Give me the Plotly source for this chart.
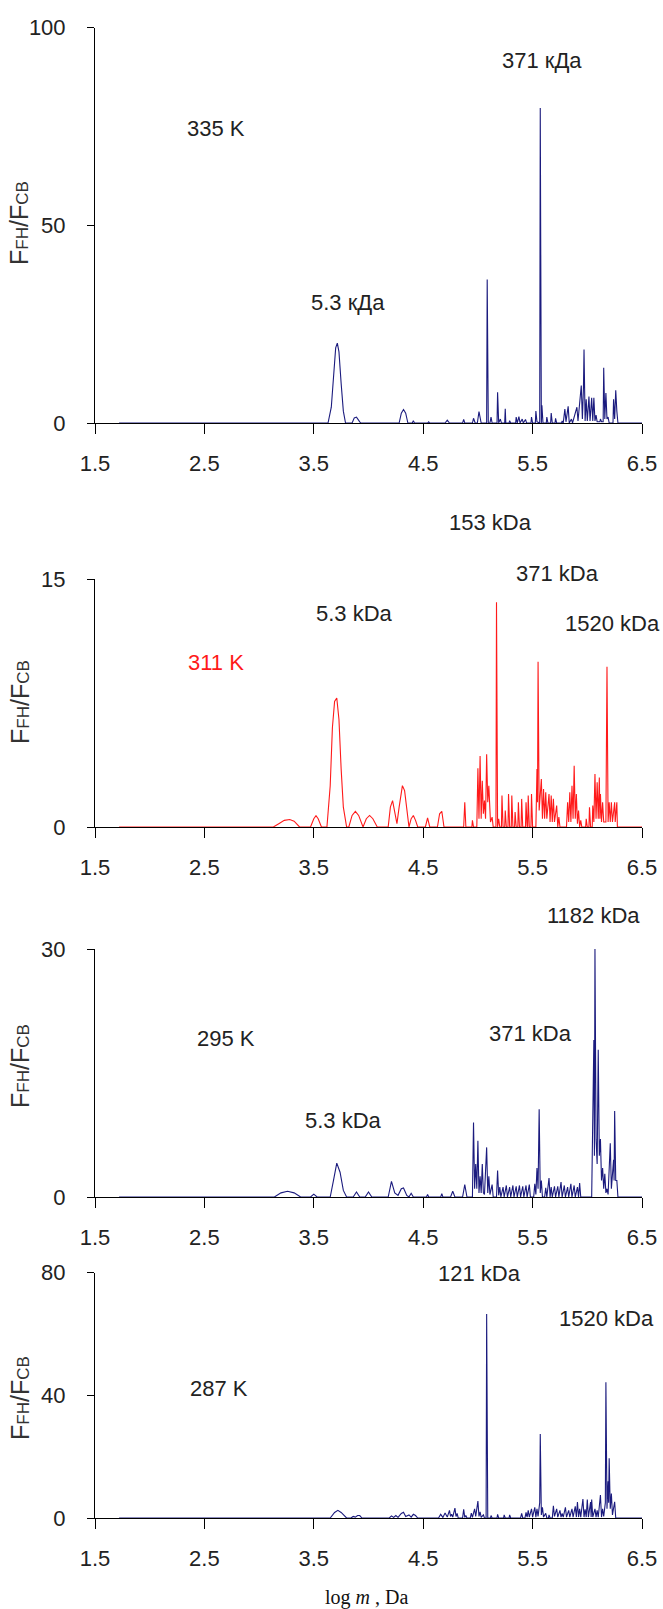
import plotly.graph_objects as go

W, H = 663, 1609

# ---------------- data (log m, F_FH/F_CB) ----------------
p1_x = [1.72, 3.63, 3.66, 3.68, 3.70, 3.715, 3.73, 3.75, 3.77, 3.79, 3.85, 3.87, 3.89, 3.92, 3.93,
        4.28, 4.30, 4.32, 4.34, 4.36, 4.40, 4.41, 4.42, 4.54, 4.55, 4.56, 4.70, 4.72, 4.74, 4.86, 4.87, 4.88,
        4.95, 4.96, 4.975, 4.995, 5.01, 5.03, 5.08, 5.085, 5.095, 5.11, 5.12, 5.13, 5.175, 5.18, 5.19,
        5.205, 5.215, 5.245, 5.25, 5.255, 5.285, 5.29, 5.30, 5.345, 5.35, 5.36, 5.375, 5.385, 5.405, 5.415,
        5.435, 5.445, 5.485, 5.49, 5.50, 5.525, 5.53, 5.54, 5.565, 5.57, 5.58, 5.585, 5.595, 5.625, 5.63, 5.64,
        5.665, 5.67, 5.68, 5.705, 5.71, 5.72, 5.765, 5.77, 5.78, 5.795, 5.805, 5.825, 5.835, 5.855, 5.865,
        5.905, 5.915, 5.945, 5.955, 5.965, 5.97, 5.98, 5.99, 6.00, 6.015, 6.025, 6.04, 6.05, 6.06, 6.07, 6.08, 6.09,
        6.115, 6.12, 6.13, 6.145, 6.15, 6.16, 6.17, 6.18, 6.19, 6.20, 6.235, 6.24, 6.25, 6.26, 6.27, 6.28, 6.5]
p1_y = [0, 0, 4, 12, 19, 20.2, 18, 10, 3, 0, 0, 1.3, 1.5, 0.3, 0,
        0, 2.5, 3.4, 2.5, 0, 0, 0.6, 0, 0, 0.3, 0, 0, 0.7, 0, 0, 0.9, 0,
        0, 1.2, 0, 0, 2.9, 0, 0, 36.3, 0, 0, 1.5, 0, 0, 7.8, 0,
        1.0, 0, 0, 3.6, 0, 0, 0.6, 0, 0, 1.5, 0, 1.6, 0, 1.0, 0,
        0.9, 0, 0, 1.5, 0, 0, 3.0, 0.3, 0, 79.7, 0, 4.5, 0, 0, 1.5, 0,
        0, 2.5, 0, 0, 1.2, 0, 0, 0.5, 0, 3.5, 0.3, 4.2, 0, 1.0, 0,
        4.0, 0.5, 9.5, 1.0, 9.0, 18.6, 0.5, 6.0, 0.5, 6.7, 0.5, 6.4, 0.5, 6.4, 0.5, 2.0, 0.3,
        0.3, 1.0, 0.3, 0.3, 14.0, 1.0, 7.6, 1.0, 1.5, 0, 0, 6.0, 1.0, 8.3, 3.0, 0, 0]

p2_x = [1.72, 3.13, 3.18, 3.23, 3.28, 3.32, 3.37, 3.47, 3.50, 3.52, 3.54, 3.57,
        3.62, 3.65, 3.67, 3.69, 3.71, 3.73, 3.75, 3.77, 3.80, 3.82, 3.85, 3.88, 3.91, 3.95, 3.98, 4.01, 4.04, 4.08,
        4.18, 4.20, 4.22, 4.24, 4.26, 4.28, 4.31, 4.33, 4.36, 4.37, 4.39, 4.41, 4.43, 4.45,
        4.52, 4.54, 4.56, 4.63, 4.65, 4.67, 4.69, 4.87, 4.88, 4.89, 4.945, 4.95, 4.96,
        4.99, 5.00, 5.01, 5.02, 5.03, 5.04, 5.05, 5.06, 5.07, 5.08, 5.09, 5.10, 5.115, 5.13, 5.14,
        5.165, 5.17, 5.18, 5.19, 5.20, 5.215, 5.22, 5.23, 5.245, 5.25, 5.26, 5.275, 5.28, 5.29,
        5.305, 5.31, 5.32, 5.335, 5.34, 5.35, 5.365, 5.37, 5.38, 5.395, 5.40, 5.41, 5.435, 5.44, 5.45,
        5.455, 5.46, 5.47, 5.485, 5.49, 5.50, 5.53, 5.54, 5.545, 5.55, 5.56, 5.58, 5.59, 5.60, 5.61,
        5.62, 5.63, 5.65, 5.66, 5.67, 5.68, 5.69, 5.70, 5.72, 5.73, 5.74, 5.75,
        5.81, 5.82, 5.83, 5.84, 5.85, 5.86, 5.87, 5.88, 5.89, 5.90, 5.91, 5.92, 5.93, 5.94, 5.95,
        5.985, 5.99, 6.00, 6.015, 6.02, 6.03, 6.045, 6.05, 6.06, 6.07, 6.08, 6.09, 6.10, 6.11, 6.115,
        6.12, 6.13, 6.14, 6.15, 6.17, 6.18, 6.19, 6.20, 6.21, 6.22, 6.23, 6.25, 6.255, 6.27, 6.275, 6.5]
p2_y = [0, 0, 0.2, 0.4, 0.45, 0.35, 0, 0, 0.5, 0.68, 0.5, 0,
        0, 2.5, 6.0, 7.6, 7.8, 6.5, 3.5, 1.2, 0, 0, 0.7, 0.95, 0.7, 0, 0.5, 0.7, 0.5, 0,
        0, 1.2, 1.6, 1.0, 0.2, 1.2, 2.5, 2.2, 0.3, 0, 0.5, 0.7, 0.4, 0,
        0, 0.55, 0, 0, 0.8, 0.95, 0, 0, 1.5, 0, 0, 0.4, 0,
        0, 3.55, 0.5, 4.3, 0.5, 2.8, 0.8, 1.6, 0.5, 4.4, 1.5, 2.5, 0.3, 0.6, 0,
        0, 13.6, 0, 0.5, 0, 0, 1.9, 0, 0, 1.0, 0, 0, 2.0, 0,
        0, 1.9, 0, 0, 0.9, 0, 0, 1.5, 0, 0, 1.7, 0, 0, 1.5, 0,
        0, 1.9, 0, 0, 2.0, 0, 0, 3.5, 1.5, 10.0, 1.0, 2.9, 0.5, 2.3, 0.5,
        2.1, 0.5, 2.0, 0.3, 1.9, 0.3, 1.7, 0.3, 1.3, 0, 0.6, 0,
        0, 1.5, 0.3, 2.1, 0.3, 2.5, 0.5, 3.7, 0.5, 2.0, 0.2, 1.0, 0, 0.4, 0,
        0, 0.5, 0, 0, 1.2, 0, 0, 1.3, 0.3, 3.2, 0.5, 2.7, 0.5, 3.0, 0.5,
        2.0, 0.3, 1.5, 0.3, 0.3, 9.7, 0.3, 1.5, 0.3, 1.5, 0.3, 1.5, 0.3, 1.5, 0, 0]

p3_x = [1.72, 3.14, 3.20, 3.26, 3.32, 3.38, 3.47, 3.50, 3.53, 3.65, 3.68, 3.71, 3.74, 3.77, 3.80,
        3.86, 3.89, 3.92, 3.97, 4.00, 4.03, 4.18, 4.21, 4.24, 4.27, 4.30, 4.32, 4.35, 4.37, 4.39, 4.41,
        4.53, 4.54, 4.55, 4.66, 4.67, 4.68, 4.75, 4.77, 4.79, 4.86, 4.88, 4.90,
        4.95, 4.96, 4.97, 4.98, 4.99, 5.00, 5.01, 5.02, 5.03, 5.04, 5.05, 5.06, 5.08, 5.09, 5.10, 5.11,
        5.13, 5.14, 5.17, 5.18, 5.19, 5.20, 5.21, 5.23, 5.24, 5.26, 5.27, 5.29, 5.30, 5.32, 5.33,
        5.35, 5.36, 5.38, 5.39, 5.41, 5.42, 5.44, 5.45, 5.47, 5.48, 5.51, 5.52, 5.53, 5.54, 5.55,
        5.56, 5.57, 5.58, 5.59, 5.61, 5.62, 5.63, 5.65, 5.66, 5.67, 5.68, 5.70, 5.71, 5.73, 5.74,
        5.76, 5.77, 5.79, 5.80, 5.82, 5.83, 5.85, 5.86, 5.88, 5.89, 5.91, 5.92, 5.93, 5.94,
        6.04, 6.05, 6.06, 6.065, 6.07, 6.08, 6.09, 6.10, 6.11, 6.12, 6.13, 6.14, 6.15, 6.16, 6.17,
        6.18, 6.19, 6.21, 6.22, 6.24, 6.245, 6.25, 6.26, 6.27, 6.28, 6.5]
p3_y = [0, 0, 0.5, 0.7, 0.5, 0, 0, 0.35, 0, 0, 2.0, 4.1, 3.0, 0.8, 0,
        0, 0.6, 0, 0, 0.6, 0, 0, 1.9, 0.5, 0.2, 1.0, 1.1, 0.2, 0, 0.45, 0,
        0, 0.3, 0, 0, 0.4, 0, 0, 0.7, 0, 0, 1.5, 0,
        0, 9.0, 1.0, 4.0, 1.0, 6.8, 0.5, 2.5, 0.5, 4.0, 0.5, 0.3, 6.0, 0.5, 2.5, 0.3,
        1.5, 0, 0, 3.2, 0.2, 1.2, 0, 1.2, 0, 1.4, 0, 1.2, 0, 1.4, 0,
        1.3, 0, 1.4, 0, 1.3, 0, 1.4, 0, 1.5, 0, 0, 1.6, 0.3, 3.5, 1.0,
        10.6, 0.5, 2.0, 0, 0, 1.1, 0, 2.3, 0, 1.2, 0, 1.3, 0, 1.3, 0,
        1.8, 0, 1.4, 0, 1.2, 0, 1.6, 0, 1.4, 0, 1.2, 0, 1.7, 0,
        0, 8.0, 19.0, 5.0, 30.0, 7.0, 4.0, 17.8, 5.0, 7.0, 2.0, 3.5, 1.0, 2.8, 0.5,
        1.0, 0.3, 6.5, 1.0, 4.5, 2.0, 10.4, 2.0, 2.0, 0, 0]

p4_x = [1.72, 3.65, 3.69, 3.72, 3.75, 3.80, 3.84, 3.86, 3.88, 3.90, 3.92, 3.94,
        4.19, 4.21, 4.23, 4.25, 4.27, 4.30, 4.32, 4.34, 4.37, 4.39, 4.41, 4.43, 4.45,
        4.64, 4.66, 4.68, 4.70, 4.72, 4.74, 4.75, 4.76, 4.77, 4.79, 4.80, 4.81, 4.82,
        4.86, 4.87, 4.88, 4.89, 4.90, 4.93, 4.94, 4.95, 4.97, 4.98, 5.00, 5.01, 5.02, 5.03, 5.05, 5.06,
        5.075, 5.08, 5.09, 5.115, 5.12, 5.13, 5.175, 5.18, 5.19, 5.235, 5.24, 5.25, 5.285, 5.29, 5.30,
        5.39, 5.40, 5.41, 5.43, 5.44, 5.45, 5.46, 5.47, 5.49, 5.50, 5.52, 5.53, 5.54, 5.55,
        5.565, 5.57, 5.58, 5.59, 5.60, 5.62, 5.63, 5.645, 5.65, 5.66, 5.68, 5.69, 5.70,
        5.72, 5.73, 5.75, 5.76, 5.77, 5.78, 5.80, 5.81, 5.83, 5.84, 5.86, 5.87, 5.89, 5.90,
        5.91, 5.92, 5.93, 5.94, 5.96, 5.97, 5.98, 5.99, 6.00, 6.01, 6.03, 6.035, 6.04, 6.05,
        6.07, 6.08, 6.09, 6.10, 6.12, 6.13, 6.14, 6.15, 6.165, 6.17, 6.18, 6.19, 6.195, 6.20,
        6.21, 6.22, 6.23, 6.25, 6.26, 6.5]
p4_y = [0, 0, 1.8, 2.5, 1.8, 0, 0, 0.5, 0.3, 0.8, 0.8, 0,
        0, 0.7, 0.2, 0.8, 0.2, 1.5, 1.9, 0.5, 1.0, 0.3, 1.2, 0.8, 0,
        0, 1.2, 0.2, 1.6, 0.3, 2.5, 0.5, 1.2, 0.3, 3.2, 0.5, 1.5, 0,
        0, 2.8, 0.2, 0.8, 0, 0, 1.6, 0.2, 3.0, 0.5, 5.5, 0.5, 2.0, 0.2, 1.0, 0,
        0, 66.5, 0, 0, 0.8, 0, 0, 1.2, 0, 0, 1.0, 0, 0, 1.0, 0,
        0, 1.5, 0, 0, 1.8, 0.3, 2.5, 0.3, 3.0, 0.3, 3.5, 0.3, 3.0, 0.5,
        5.0, 27.4, 1.0, 3.5, 0.3, 1.5, 0, 0, 1.0, 0, 0, 4.0, 0.5,
        3.0, 0.3, 2.5, 0.3, 1.5, 0.3, 3.5, 0.3, 2.5, 0.3, 3.0, 0.3, 3.8, 0.3,
        5.2, 0.3, 3.0, 0.3, 6.2, 0.3, 2.8, 0.3, 6.0, 0.3, 5.2, 0.3, 6.0, 0.3,
        3.0, 0.3, 2.5, 0.3, 7.5, 0.3, 3.0, 0.5, 5.0, 44.2, 3.0, 12.0, 5.0, 19.5,
        3.0, 8.0, 1.0, 5.3, 0, 0]

x_ticks = [1.5, 2.5, 3.5, 4.5, 5.5, 6.5]
y_ranges = [100, 15, 30, 80]
y_ticks = [[0, 50, 100], [0, 15], [0, 30], [0, 40, 80]]
temps = ["335 K", "311 K", "295 K", "287 K"]
series = [(p1_x, p1_y), (p2_x, p2_y), (p3_x, p3_y), (p4_x, p4_y)]
colors = ["#1b1b7e", "#ff1a1a", "#1b1b7e", "#1b1b7e"]

# ---------------- layout (pixel geometry) ----------------
X0, X1 = 95, 642
panels_px = [(27.7, 423), (579, 827), (949, 1197), (1272.5, 1518)]  # top, bottom pixel rows

def px(x):
    return x / W

def py(y):
    return 1 - y / H

FAM = "Liberation Sans, Arial, sans-serif"
fig = go.Figure()
TICKFONT = dict(family=FAM, size=22, color="#222222")

for i, ((xs, ys), (top, bot)) in enumerate(zip(series, panels_px)):
    n = "" if i == 0 else str(i + 1)
    fig.add_trace(go.Scatter(x=xs, y=ys, mode="lines", xaxis="x" + n, yaxis="y" + n,
                             line=dict(color=colors[i], width=1.1), showlegend=False,
                             hoverinfo="skip"))
    fig.layout["xaxis" + n] = dict(
        domain=[px(X0), px(X1)], anchor="y" + n, range=[1.5, 6.5], automargin=False,
        tickvals=x_ticks, ticktext=[f"{v:.1f}" for v in x_ticks],
        showgrid=False, zeroline=False, showline=True, linecolor="black", linewidth=1,
        ticks="outside", ticklen=10, tickcolor="black", tickwidth=1,
        tickfont=TICKFONT, ticklabelstandoff=11, layer="below traces")
    fig.layout["yaxis" + n] = dict(
        domain=[py(bot), py(top)], anchor="x" + n, range=[0, y_ranges[i]], automargin=False,
        tickvals=y_ticks[i], showgrid=False, zeroline=False, showline=True,
        linecolor="black", linewidth=1, ticks="outside", ticklen=7, tickcolor="black",
        tickfont=TICKFONT, ticklabelstandoff=17, layer="below traces")

LBL = dict(family=FAM, size=22, color="#222222")

def ann(text, x, y, color="#222222", xanchor="center", font=None, angle=0):
    f = dict(LBL) if font is None else dict(font)
    f["color"] = color
    fig.add_annotation(text=text, x=px(x), y=py(y), xref="paper", yref="paper",
                       showarrow=False, xanchor=xanchor, yanchor="middle", font=f,
                       textangle=angle)

# panel 1
ann(temps[0], 216, 128)
ann("371 кДа", 542, 61)
ann("5.3 кДа", 348, 302)
# panel 2
ann("153 kDa", 490, 522)
ann("371 kDa", 557, 573)
ann("5.3 kDa", 354, 614)
ann("1520 kDa", 662, 624, xanchor="right")
ann(temps[1], 216, 662, color="#ff1a1a")
# panel 3
ann("1182 kDa", 593, 915)
ann(temps[2], 226, 1038)
ann("371 kDa", 530, 1033)
ann("5.3 kDa", 343, 1120)
# panel 4
ann("121 kDa", 479, 1273)
ann("1520 kDa", 606, 1318)
ann(temps[3], 219, 1388)

# y-axis titles
ytitle = "F<span style='font-size:17px'>FH</span>/F<span style='font-size:17px'>CB</span>"
TF = dict(family="Liberation Sans, Arial, sans-serif", size=25, color="#333333")
ann(ytitle, 19, 223, color="#333333", font=TF, angle=-90)
ann(ytitle, 20, 702, color="#333333", font=TF, angle=-90)
ann(ytitle, 20, 1066, color="#333333", font=TF, angle=-90)
ann(ytitle, 20, 1398, color="#333333", font=TF, angle=-90)

# x-axis title
ann("log <i>m</i> , Da", 366, 1597, color="#111111",
    font=dict(family="Liberation Serif, Times New Roman, serif", size=20))

fig.update_layout(width=W, height=H, margin=dict(l=0, r=0, t=0, b=0, autoexpand=False),
                  paper_bgcolor="white", plot_bgcolor="white")

fig.write_html("out.html")
